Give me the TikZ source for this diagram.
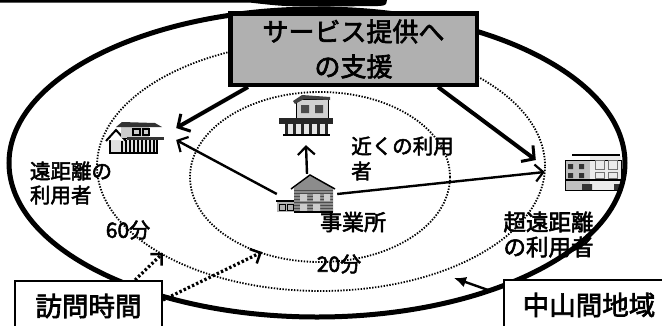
\documentclass[tikz,border=0pt]{standalone}
\usepackage{fontspec}
\setmainfont{Noto Sans CJK JP}[FakeBold=2.5]
\usetikzlibrary{arrows.meta,calc}

\definecolor{boxgray}{RGB}{176,176,176}

\tikzset{
  lbl/.style={inner sep=0pt, align=left},
  spot/.style={inner sep=0pt, draw=none, rectangle},
  bigarrow/.style={line width=4pt, -{Straight Barb[length=9pt,width=20pt,line width=3pt]}},
  midarrow/.style={line width=2.4pt, -{Straight Barb[length=8pt,width=17pt,line width=2.2pt]}},
  dotarrow/.style={line width=3.2pt, dash pattern=on 2.4pt off 2.2pt, -{Straight Barb[length=8pt,width=16pt,line width=2.5pt]}},
  ringdot/.style={line width=1.8pt, dash pattern=on 1.4pt off 1.5pt},
  framebox/.style={draw, fill=white, line width=2pt, inner sep=0pt},
  % small clip-art houses, drawn around their own centre
  houseL/.pic={
    \fill[black!12] (-25,1) rectangle (22,16);
    \foreach \x in {-9,-5,...,19} \draw[line width=1.1pt] (\x,3) -- (\x,16);
    \draw[line width=1.3pt] (-25,1) rectangle (22,16);
    \fill[white] (-27,3) -- (-19,-6) -- (-11,3) -- cycle;
    \draw[line width=2pt] (-29,4) -- (-19,-7) -- (-9,4);
    \draw[line width=1.2pt] (-25,4) -- (-25,16) (-13,4) -- (-13,16);
    \fill[black!20] (-14,-10) rectangle (14,1);
    \draw[line width=1.2pt] (-2,-8) rectangle (5,-2) (8,-8) rectangle (14,-2);
    \fill[black!80] (-19,-10) -- (-13,-15) -- (20,-14) -- (27,-10) -- cycle;
    \fill[black!80] (-8,0) rectangle (29,3);
  },
  houseT/.pic={
    \fill[black!18] (-10,-19) rectangle (22,0);
    \draw[line width=1pt] (-10,-19) rectangle (22,0);
    \fill[black!75] (-13,-17) -- (-4,-23) -- (24,-21) -- (24,-18) -- (-2,-19) -- (-11,-14) -- cycle;
    \fill[black!70] (-5,-13) rectangle (3,-5) (9,-13) rectangle (17,-5);
    \fill[black!85] (-27,0) rectangle (27,6);
    \fill[black!10] (-21,6) rectangle (22,17);
    \foreach \x in {-21,-13,-5,3,11,19} \fill[black!85] (\x,6) rectangle (\x+3,17);
    \draw[line width=1.2pt] (-23,17) -- (24,17);
  },
  houseC/.pic={
    \fill[black!30] (-30,7) rectangle (-10,18);
    \draw[line width=1.2pt] (-31,7) -- (-10,7);
    \draw[line width=0.8pt] (-28,10) rectangle (-22,16) (-20,10) rectangle (-14,16);
    \fill[black!45] (-13,-6) -- (3,-18) -- (26,-6) -- (26,18) -- (-13,18) -- cycle;
    \foreach \y in {-4,-1,...,17} \draw[black!70,line width=0.5pt] (-13,\y) -- (26,\y);
    \draw[line width=1.5pt] (-16,-5) -- (3,-19) -- (28,-5);
    \fill[black!20] (-7,0) rectangle (0,7) (6,0) rectangle (13,7) (17,0) rectangle (23,7);
    \fill[black!20] (-7,10) rectangle (0,17) (6,10) rectangle (13,17);
    \draw[line width=1.2pt] (-13,18) -- (26,18);
  },
  houseR/.pic={
    \fill[black!25] (-27,-12) rectangle (-2,18);
    \fill[black!8] (-2,-16) rectangle (29,18);
    \draw[line width=2pt] (-20,-17) -- (28,-17);
    \draw[line width=1pt] (-27,-12) rectangle (29,18);
    \fill[black!80] (-24,-8) rectangle (-19,-3) (-24,1) rectangle (-19,6) (-13,-8) rectangle (-8,-3) (-13,1) rectangle (-8,6);
    \draw[black!55,line width=0.8pt] (3,-12) rectangle (12,-3) (16,-12) rectangle (25,-3) (3,0) rectangle (12,6) (16,0) rectangle (25,6);
    \draw[line width=1.5pt] (-27,8) -- (29,8);
    \fill[black!80] (-10,12) rectangle (0,18) (22,12) rectangle (29,18);
  },
}

\begin{document}
\begin{tikzpicture}[x=1pt,y=-1pt]
\useasboundingbox (0,0) rectangle (662,325);
\clip (0,0) rectangle (662,325);
\fill[white] (0,0) rectangle (662,325);

% rule along the top edge
\fill (0,0) -- (0,2.6) -- (250,2.6) .. controls (285,6.5) .. (330,6.5) -- (378,6) .. controls (386,5.5) .. (387,0) -- cycle;

% travel-time rings
\draw[ringdot] (321,166) ellipse [x radius=224pt, y radius=125pt];
\draw[ringdot] (320,177) ellipse [x radius=130pt, y radius=85pt];

% houses
\pic at (135,137) {houseL};
\pic at (306,118) {houseT};
\pic at (307,194) {houseC};
\pic at (592,172) {houseR};
\node[spot, minimum width=76pt, minimum height=36pt] (hL) at (138,136) {};
\node[spot, minimum width=56pt, minimum height=50pt] (hT) at (306,120) {};
\node[spot, minimum width=60pt, minimum height=40pt] (hC) at (307,194) {};
\node[spot, minimum width=60pt, minimum height=40pt] (hR) at (592,172) {};

% labels
\node[lbl, font=\fontsize{20.5}{24}\selectfont] (tL) at (71,183) {遠距離の\\利用者};
\node[lbl, font=\fontsize{20.5}{25}\selectfont] (tNear) at (402.5,158.5) {近くの利用\\者};
\node[lbl, font=\fontsize{22}{25}\selectfont] (tOff) at (353,222) {事業所};
\node[lbl, font=\fontsize{22.5}{25}\selectfont] (tFar) at (548.5,234.5) {超遠距離\\の利用者};
\node[lbl, font=\fontsize{21}{25}\selectfont] (t60) at (128,230) {60分};
\node[lbl, font=\fontsize{21}{25}\selectfont] (t20) at (339,264) {20分};

% region boundary
\draw[line width=5pt] (317,163) ellipse [x radius=308pt, y radius=154pt];

% support box
\node[draw, fill=boxgray, line width=4.5pt, inner sep=0pt, minimum width=246.5pt, minimum height=71.5pt,
      align=center, font=\fontsize{26}{35}\selectfont] (box) at (353.5,49) {サービス提供へ\\の支援};

% flows
\draw[bigarrow] ([xshift=20pt]box.south west) -- ([yshift=8pt]hL.east);
\draw[bigarrow] ([xshift=-41pt]box.south east) -- ([shift={(-26pt,12pt)}]hR.west);
\draw[midarrow] (hC.west) -- ([yshift=-4pt]hL.east);
\draw[midarrow] (hC.north) -- (hT.south);
\draw[midarrow] (hC.east) -- ([xshift=-17pt]hR.west);

% time and area boxes
\node[framebox, minimum width=147pt, minimum height=50pt, font=\fontsize{26.5}{30}\selectfont] (visit) at (88.5,306) {訪問時間};
\node[framebox, minimum width=170pt, minimum height=50pt, font=\fontsize{26.5}{30}\selectfont] (area) at (589,305) {中山間地域};

\coordinate (r60) at (163,253);
\coordinate (r20) at (262,252);
\coordinate (inside) at (454,278);
\draw[dotarrow] ([xshift=-28pt]visit.north east) -- (r60);
\draw[dotarrow] ([yshift=6pt]visit.east) -- (r20);
\draw[line width=2.4pt, -{Latex[length=12pt,width=11pt]}] ([shift={(-15pt,-11pt)}]area.north west) -- (inside);
\end{tikzpicture}
\end{document}
